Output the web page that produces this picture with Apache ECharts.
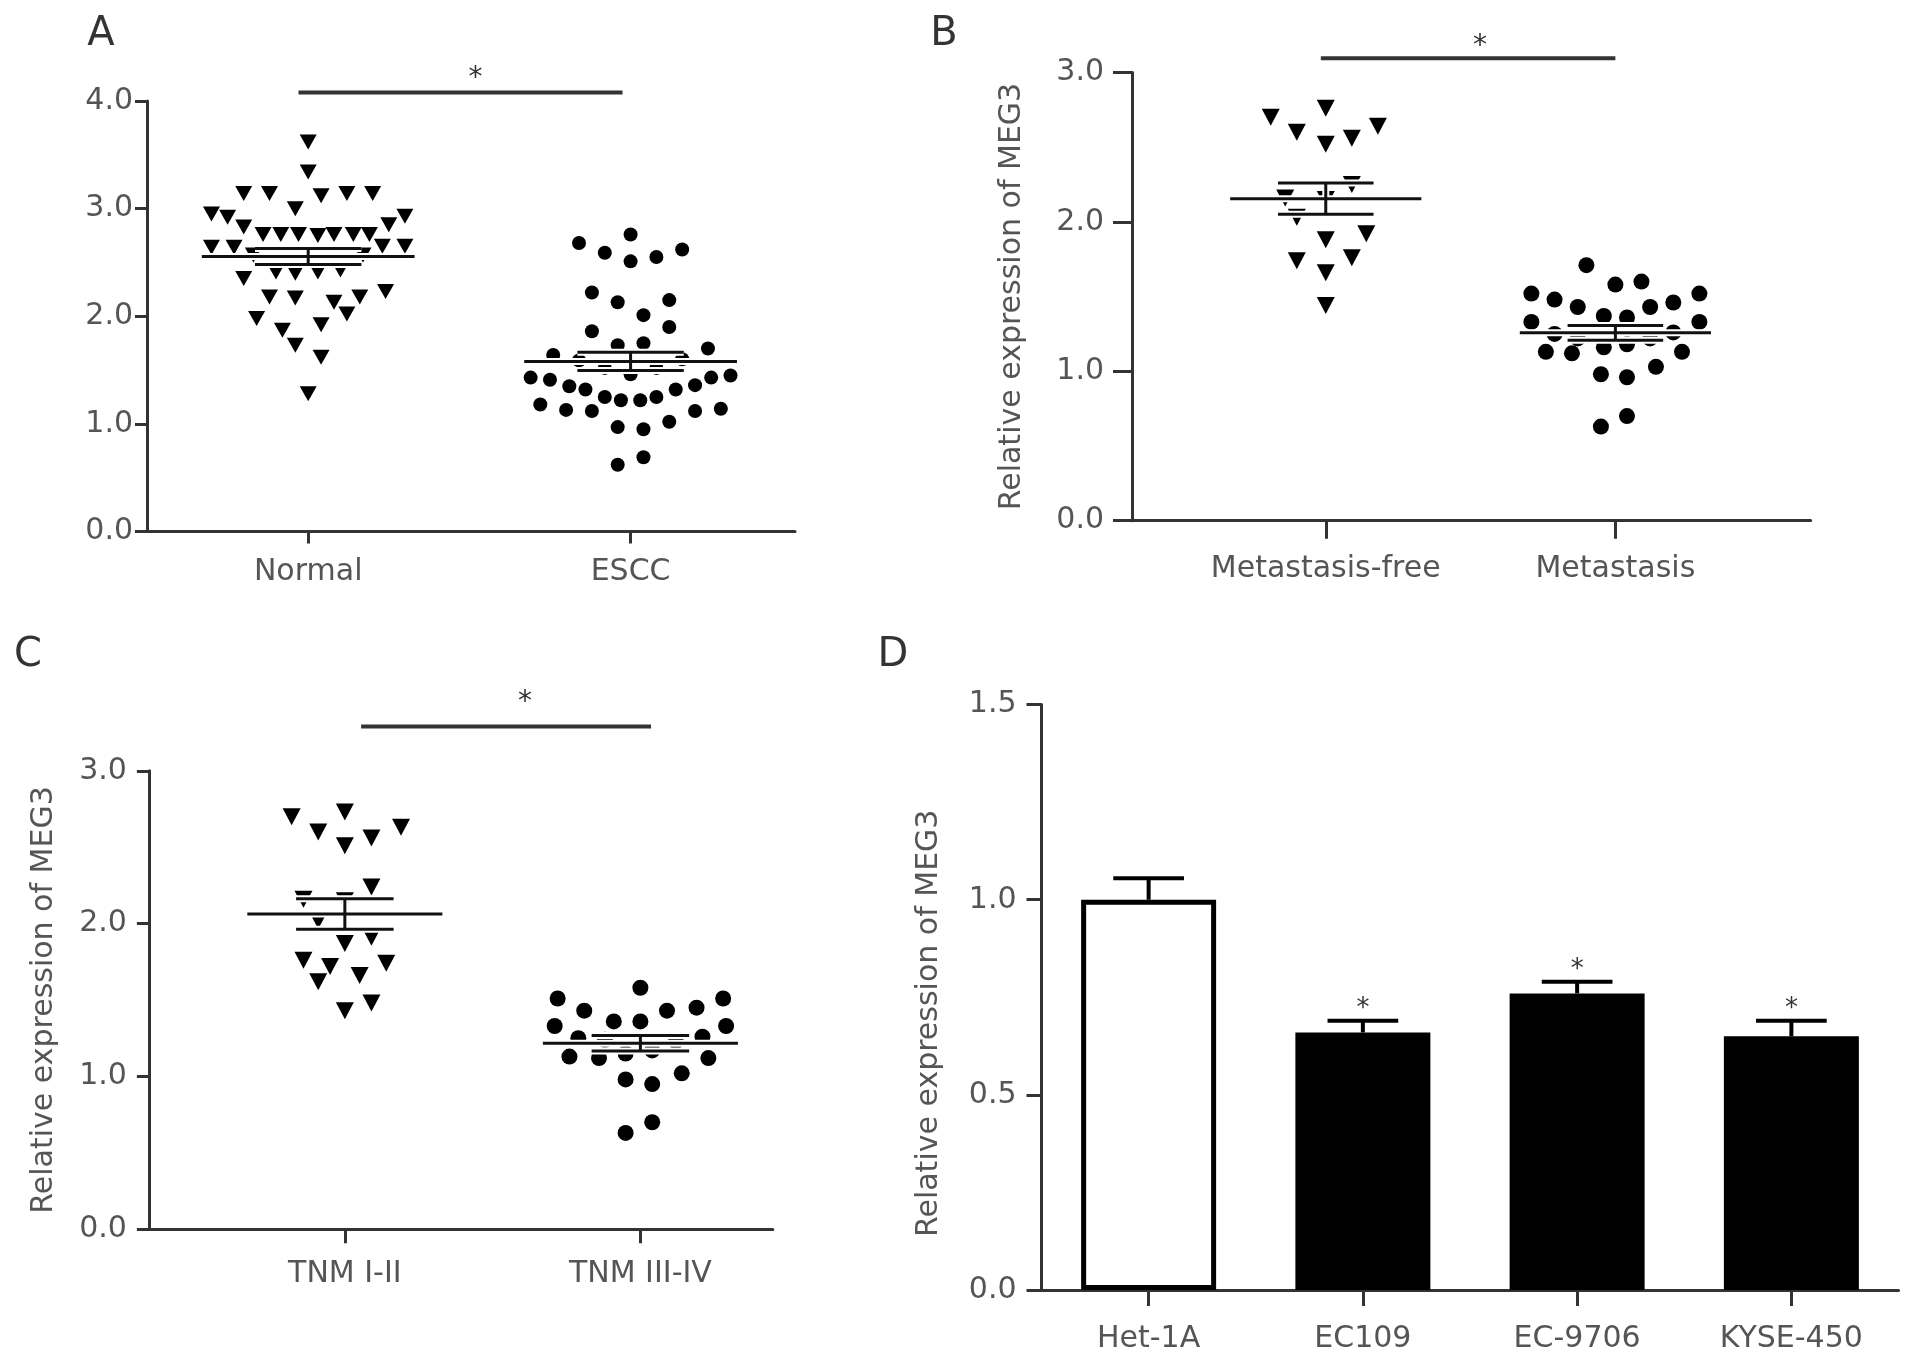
<!DOCTYPE html>
<html>
<head>
<meta charset="utf-8">
<title>MEG3 expression</title>
<script src="https://cdn.jsdelivr.net/npm/echarts@6/dist/echarts.min.js"></script>
<style>
  html, body { margin: 0; padding: 0; background: #fff; }
  #chart { width: 1913px; height: 1364px; }
</style>
</head>
<body>
<div id="chart"></div>
<script>
// ---- data ----
// A: Normal vs ESCC (x jitter within category, value)
const catsA = ['Normal', 'ESCC'];
const normalDx = [0, 0, -0.20, -0.12, 0.04, 0.12, 0.20, -0.04, 0.30, 0.25, -0.20, -0.14, -0.085, -0.03, 0.03, 0.08, 0.14, 0.19, 0.23, 0.30, -0.23, -0.30, -0.25, -0.30, -0.17, 0.17, -0.20, -0.10, -0.04, 0.03, 0.10, -0.12, -0.04, 0.08, 0.16, 0.24, 0.12, -0.16, -0.08, 0.04, -0.04, 0.04, 0];
const normalVal = [3.62, 3.34, 3.14, 3.14, 3.12, 3.14, 3.14, 3.00, 2.93, 2.85, 2.83, 2.76, 2.76, 2.76, 2.75, 2.76, 2.76, 2.76, 2.65, 2.65, 2.64, 2.95, 2.92, 2.64, 2.57, 2.57, 2.35, 2.41, 2.40, 2.41, 2.43, 2.18, 2.17, 2.13, 2.18, 2.23, 2.02, 1.98, 1.87, 1.92, 1.73, 1.62, 1.28];
const esccDx = [-0.16, 0, -0.08, 0, 0.08, 0.16, -0.12, -0.04, 0.12, 0.04, -0.12, 0.12, -0.04, 0.04, 0.24, -0.24, -0.16, 0.16, -0.08, 0, 0.08, -0.31, -0.25, -0.19, -0.14, -0.08, -0.03, 0.03, 0.08, 0.14, 0.20, 0.25, 0.31, -0.28, -0.20, -0.12, 0.20, 0.28, -0.04, 0.04, 0.12, -0.04, 0.04];
const esccVal = [2.68, 2.76, 2.59, 2.51, 2.55, 2.62, 2.22, 2.13, 2.15, 2.01, 1.86, 1.90, 1.73, 1.75, 1.70, 1.64, 1.59, 1.60, 1.52, 1.46, 1.52, 1.43, 1.41, 1.35, 1.32, 1.25, 1.22, 1.22, 1.25, 1.32, 1.36, 1.43, 1.45, 1.18, 1.13, 1.12, 1.12, 1.14, 0.97, 0.95, 1.02, 0.62, 0.69];
const meanA = [2.555, 1.58];
const semA = [0.075, 0.085];
const sigA = [-0.03, 0.975, 4.08];

// B: Metastasis-free vs Metastasis
const catsB = ['Metastasis-free', 'Metastasis'];
const freeDx = [0, -0.19, -0.10, 0, 0.09, 0.18, 0.09, -0.14, 0, -0.10, 0, 0.14, -0.10, 0.09, 0, 0];
const freeVal = [2.76, 2.70, 2.60, 2.52, 2.56, 2.64, 2.25, 2.16, 2.15, 2.03, 1.88, 1.92, 1.74, 1.76, 1.66, 1.44];
const metDx = [-0.10, 0, 0.09, -0.29, -0.21, -0.13, 0.12, 0.20, 0.29, -0.29, -0.04, 0.04, 0.29, -0.21, -0.13, 0.12, 0.20, -0.24, -0.15, -0.04, 0.04, 0.23, -0.05, 0.04, 0.14, -0.05, 0.04];
const metVal = [1.71, 1.58, 1.60, 1.52, 1.48, 1.43, 1.43, 1.46, 1.52, 1.33, 1.37, 1.36, 1.33, 1.25, 1.22, 1.22, 1.26, 1.13, 1.12, 1.16, 1.18, 1.13, 0.98, 0.96, 1.03, 0.63, 0.70];
const meanB = [2.155, 1.257];
const semB = [0.105, 0.05];
const sigB = [-0.017, 1.0, 3.095];

// C: TNM I-II vs TNM III-IV
const catsC = ['TNM I-II', 'TNM III-IV'];
const earlyDx = [0, -0.18, -0.09, 0, 0.09, 0.19, 0.09, -0.14, 0, -0.09, 0.09, 0, -0.14, -0.05, 0.14, -0.09, 0.05, 0, 0.09];
const earlyVal = [2.73, 2.70, 2.60, 2.51, 2.56, 2.63, 2.24, 2.16, 2.15, 2.02, 1.91, 1.87, 1.76, 1.72, 1.74, 1.62, 1.66, 1.43, 1.48];
const lateDx = [0, -0.28, 0.28, -0.19, 0.09, 0.19, -0.29, -0.09, 0, 0.29, -0.21, -0.12, 0.12, 0.21, -0.24, -0.14, -0.05, 0.04, 0.23, -0.05, 0.04, 0.14, -0.05, 0.04];
const lateVal = [1.58, 1.51, 1.51, 1.43, 1.43, 1.45, 1.33, 1.36, 1.36, 1.33, 1.25, 1.24, 1.23, 1.26, 1.13, 1.12, 1.15, 1.17, 1.12, 0.98, 0.95, 1.02, 0.63, 0.70];
const meanC = [2.063, 1.217];
const semC = [0.10, 0.05];
const sigC = [0.055, 1.036, 3.29];

// D: cell lines
const catsD = ['Het-1A', 'EC109', 'EC-9706', 'KYSE-450'];
const valD = [1.0, 0.66, 0.76, 0.65];
const semD = [0.055, 0.03, 0.03, 0.04];
const starD = [false, true, true, true];

// ---- styling ----
const FONT = 'DejaVu Sans';
const AXIS_COLOR = '#333';
const LABEL_COLOR = '#555';
const MEAN_HALF = 0.33;
const CAP_HALF = 0.165;

const chart = echarts.init(document.getElementById('chart'));

function toPoints(cat, dx, vals) {
  return vals.map((v, i) => [cat + dx[i], v]);
}

function xAxisScatter(grid, cats, min, max, tickLen, margin) {
  return {
    type: 'value', gridIndex: grid, min: min, max: max,
    splitLine: { show: false },
    axisLine: { show: true, onZero: false, lineStyle: { color: AXIS_COLOR, width: 3 } },
    axisTick: { show: true, length: tickLen, customValues: [0, 1], lineStyle: { color: AXIS_COLOR, width: 3 } },
    axisLabel: {
      show: true, customValues: [0, 1], margin: margin,
      formatter: v => cats[Math.round(v)] || '',
      color: LABEL_COLOR, fontFamily: FONT, fontSize: 30
    }
  };
}

function yAxis(grid, max, interval, tickLen, margin, name, nameGap, namePad) {
  return {
    type: 'value', gridIndex: grid, min: 0, max: max, interval: interval,
    splitLine: { show: false },
    axisLine: { show: true, onZero: false, lineStyle: { color: AXIS_COLOR, width: 3 } },
    axisTick: { show: true, length: tickLen, lineStyle: { color: AXIS_COLOR, width: 3 } },
    axisLabel: { margin: margin, formatter: v => v.toFixed(1), color: LABEL_COLOR, fontFamily: FONT, fontSize: 30 },
    name: name || '', nameLocation: 'middle', nameGap: nameGap || 0, nameRotate: 90,
    nameTextStyle: { color: LABEL_COLOR, fontFamily: FONT, fontSize: 30, padding: namePad || 0 }
  };
}

function scatter(grid, data, shape) {
  const tri = shape === 'tri';
  return {
    type: 'scatter', xAxisIndex: grid, yAxisIndex: grid, z: 2, silent: true,
    data: data,
    symbol: tri ? 'triangle' : 'circle',
    symbolRotate: tri ? 180 : 0,
    symbolSize: grid === 0 ? (tri ? [17, 15] : 14) : (tri ? [18, 17] : 16),
    itemStyle: { color: '#000', opacity: 1 }
  };
}

function meanSem(grid, means, sems) {
  return {
    type: 'custom', xAxisIndex: grid, yAxisIndex: grid, z: 5, silent: true,
    encode: { x: 0, y: 1 },
    data: means.map((m, i) => [i, m, sems[i]]),
    renderItem(params, api) {
      const x = api.value(0), m = api.value(1), s = api.value(2);
      const p = (dx, y) => api.coord([x + dx, y]);
      const segs = [
        [p(-MEAN_HALF, m), p(MEAN_HALF, m)],
        [p(-CAP_HALF, m + s), p(CAP_HALF, m + s)],
        [p(-CAP_HALF, m - s), p(CAP_HALF, m - s)],
        [p(0, m - s), p(0, m + s)]
      ];
      const children = [];
      segs.forEach(sg => children.push({
        type: 'line', shape: { x1: sg[0][0], y1: sg[0][1], x2: sg[1][0], y2: sg[1][1] },
        style: { stroke: '#fff', lineWidth: 7 }
      }));
      segs.forEach(sg => children.push({
        type: 'line', shape: { x1: sg[0][0], y1: sg[0][1], x2: sg[1][0], y2: sg[1][1] },
        style: { stroke: '#111', lineWidth: 3 }
      }));
      return { type: 'group', children: children };
    }
  };
}

function sigBar(grid, sig, starDx, starUp) {
  return {
    type: 'custom', xAxisIndex: grid, yAxisIndex: grid, z: 6, silent: true,
    encode: { x: [0, 1], y: 2 },
    data: [sig],
    renderItem(params, api) {
      const a = api.coord([api.value(0), api.value(2)]);
      const b = api.coord([api.value(1), api.value(2)]);
      return {
        type: 'group', children: [
          { type: 'line', shape: { x1: a[0], y1: a[1], x2: b[0], y2: b[1] }, style: { stroke: AXIS_COLOR, lineWidth: 4 } },
          { type: 'text', x: (a[0] + b[0]) / 2 + starDx, y: a[1] - starUp + 7,
            style: { text: '*', fontSize: 28, fontFamily: FONT, fill: '#333', align: 'center', verticalAlign: 'middle' } }
        ]
      };
    }
  };
}

const letter = (t, x, y) => ({
  type: 'text', x: x, y: y,
  style: { text: t, fontSize: 40, fontFamily: FONT, fill: '#333', align: 'center', verticalAlign: 'middle' }
});

const option = {
  backgroundColor: '#fff',
  animation: false,
  grid: [
    { left: 147, top: 101, width: 648, height: 430.5, outerBoundsMode: 'none' },
    { left: 1132, top: 72.4, width: 678.6, height: 448.3, outerBoundsMode: 'none' },
    { left: 148.9, top: 770.8, width: 623.9, height: 458.4, outerBoundsMode: 'none' },
    { left: 1041.5, top: 704.6, width: 857, height: 585.4, outerBoundsMode: 'none' }
  ],
  xAxis: [
    xAxisScatter(0, catsA, -0.5, 1.51, 12, 26),
    xAxisScatter(1, catsB, -0.669, 1.674, 18, 34),
    xAxisScatter(2, catsC, -0.663, 1.448, 14, 30),
    {
      type: 'category', gridIndex: 3, data: catsD,
      axisLine: { show: true, lineStyle: { color: AXIS_COLOR, width: 3 } },
      axisTick: { show: true, alignWithLabel: true, length: 16, lineStyle: { color: AXIS_COLOR, width: 3 } },
      axisLabel: { interval: 0, margin: 34, color: LABEL_COLOR, fontFamily: FONT, fontSize: 30 },
      splitLine: { show: false }
    }
  ],
  yAxis: [
    yAxis(0, 4, 1, 12, 14),
    yAxis(1, 3, 1, 19, 28, 'Relative expression of MEG3', 105),
    yAxis(2, 3, 1, 12, 22, 'Relative expression of MEG3', 90),
    yAxis(3, 1.5, 0.5, 15, 25, 'Relative expression of MEG3', 97, [0, 52, 0, 0])
  ],
  series: [
    scatter(0, toPoints(0, normalDx, normalVal), 'tri'),
    scatter(0, toPoints(1, esccDx, esccVal), 'dot'),
    meanSem(0, meanA, semA),
    sigBar(0, sigA, 15, 21),

    scatter(1, toPoints(0, freeDx, freeVal), 'tri'),
    scatter(1, toPoints(1, metDx, metVal), 'dot'),
    meanSem(1, meanB, semB),
    sigBar(1, sigB, 12, 18),

    scatter(2, toPoints(0, earlyDx, earlyVal), 'tri'),
    scatter(2, toPoints(1, lateDx, lateVal), 'dot'),
    meanSem(2, meanC, semC),
    sigBar(2, sigC, 19, 31),

    {
      type: 'bar', xAxisIndex: 3, yAxisIndex: 3, barWidth: '63%', silent: true, z: 2,
      data: valD.map((v, i) => ({
        value: v,
        itemStyle: { color: i === 0 ? '#fff' : '#000', borderColor: '#000', borderWidth: 5, opacity: 1 }
      }))
    },
    {
      type: 'custom', xAxisIndex: 3, yAxisIndex: 3, z: 4, silent: true,
      encode: { x: 0, y: 1 },
      data: valD.map((v, i) => [i, v, semD[i], starD[i] ? 1 : 0]),
      renderItem(params, api) {
        const i = api.value(0), v = api.value(1), s = api.value(2);
        const base = api.coord([i, v]);
        const top = api.coord([i, v + s]);
        const half = api.size([1, 0])[0] * 0.165;
        const children = [
          { type: 'line', shape: { x1: base[0], y1: base[1], x2: top[0], y2: top[1] }, style: { stroke: '#000', lineWidth: 4 } },
          { type: 'line', shape: { x1: top[0] - half, y1: top[1], x2: top[0] + half, y2: top[1] }, style: { stroke: '#000', lineWidth: 4 } }
        ];
        if (api.value(3)) {
          children.push({ type: 'text', x: top[0], y: top[1] - 17 + 6,
            style: { text: '*', fontSize: 26, fontFamily: FONT, fill: '#333', align: 'center', verticalAlign: 'middle' } });
        }
        return { type: 'group', children: children };
      }
    }
  ],
  graphic: [
    letter('A', 101, 35),
    letter('B', 944, 35),
    letter('C', 28, 656),
    letter('D', 893, 656)
  ]
};

chart.setOption(option);
</script>
</body>
</html>
